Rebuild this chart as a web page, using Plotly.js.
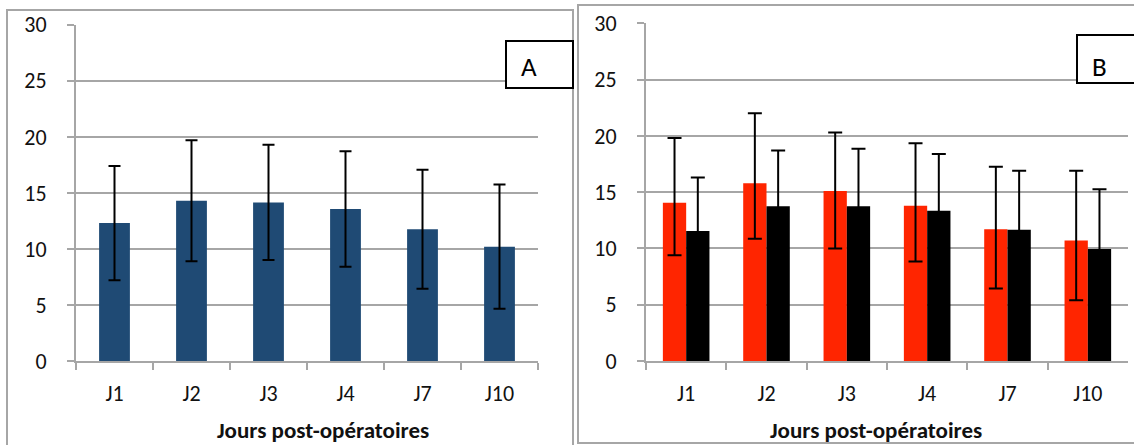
<!DOCTYPE html>
<html>
<head>
<meta charset="utf-8">
<script src="https://cdn.plot.ly/plotly-3.0.1.min.js"></script>
<style>html,body{margin:0;padding:0;background:#fff;}#chart{width:1134px;height:445px;}</style>
</head>
<body>
<div id="chart"></div>
<script>
// Categories
const days = ["J1", "J2", "J3", "J4", "J7", "J10"];

// Panel A
const meanA = [12.3, 14.3, 14.15, 13.55, 11.75, 10.2];
const sdA   = [5.1, 5.4, 5.15, 5.15, 5.3, 5.55];

// Panel B — red series
const meanRed      = [14.05, 15.8, 15.1, 13.8, 11.7, 10.7];
const errRedPlus   = [5.75, 6.2, 5.2, 5.55, 5.55, 6.2];
const errRedMinus  = [4.65, 4.95, 5.1, 4.95, 5.25, 5.3];

// Panel B — black series
const meanBlack = [11.55, 13.75, 13.75, 13.35, 11.65, 9.95];
const errBlack  = [4.75, 4.95, 5.1, 5.05, 5.25, 5.3];

const yTicks = [0, 5, 10, 15, 20, 25, 30];

const FONT = "Carlito, Lato, 'Open Sans', sans-serif";
const GRID = "#a6a6a6";
const W = 1134, H = 445;
const px = v => v / W;
const py = v => 1 - v / H;

const traces = [
  {
    type: "bar", x: days, y: meanA, xaxis: "x", yaxis: "y",
    marker: {color: "#1f4a74"}, width: 0.4, offset: -0.2,
    error_y: {type: "data", array: sdA, visible: true, color: "#000", thickness: 2, width: 6},
    showlegend: false
  },
  {
    type: "bar", x: days, y: meanRed, xaxis: "x2", yaxis: "y2",
    marker: {color: "#ff2500"}, width: 0.29, offset: -0.29,
    error_y: {type: "data", symmetric: false, array: errRedPlus, arrayminus: errRedMinus,
              visible: true, color: "#000", thickness: 2, width: 7},
    showlegend: false
  },
  {
    type: "bar", x: days, y: meanBlack, xaxis: "x2", yaxis: "y2",
    marker: {color: "#000000"}, width: 0.29, offset: 0,
    error_y: {type: "data", array: errBlack, visible: true, color: "#000", thickness: 2, width: 7},
    showlegend: false
  }
];

function xAxis(domain, anchor) {
  return {
    domain: domain, anchor: anchor, type: "category",
    tickson: "boundaries", ticks: "outside", ticklen: 7, tickwidth: 2, tickcolor: GRID,
    showline: true, linecolor: GRID, linewidth: 2, showgrid: false,
    tickfont: {family: FONT, size: 22, color: "#111"},
    ticklabelstandoff: 12, fixedrange: true
  };
}
function yAxis(domain, anchor) {
  return {
    domain: domain, anchor: anchor, range: [0, 30], tickvals: yTicks,
    ticks: "outside", ticklen: 7, tickwidth: 2, tickcolor: GRID,
    showline: true, linecolor: GRID, linewidth: 2,
    showgrid: true, gridcolor: GRID, gridwidth: 2, zeroline: false,
    tickfont: {family: FONT, size: 22, color: "#111"},
    ticklabelstandoff: 16, fixedrange: true
  };
}

const layout = {
  width: W, height: H,
  margin: {l: 0, r: 0, t: 0, b: 0},
  paper_bgcolor: "#fff", plot_bgcolor: "#fff",
  barmode: "overlay",
  xaxis: xAxis([px(76), px(538)], "y"),
  yaxis: yAxis([py(361), py(24.7)], "x"),
  xaxis2: xAxis([px(646), px(1128)], "y2"),
  yaxis2: yAxis([py(361), py(23.3)], "x2"),
  shapes: [
    {type: "rect", xref: "paper", yref: "paper", x0: px(7), x1: px(573), y0: py(460), y1: py(10),
     line: {color: GRID, width: 2}, fillcolor: "rgba(0,0,0,0)", layer: "below"},
    {type: "rect", xref: "paper", yref: "paper", x0: px(578), x1: px(1150), y0: py(443), y1: py(5),
     line: {color: GRID, width: 2}, fillcolor: "rgba(0,0,0,0)", layer: "below"},
    {type: "rect", xref: "paper", yref: "paper", x0: px(506), x1: px(573), y0: py(88), y1: py(41),
     line: {color: "#000", width: 2}, fillcolor: "#fff"},
    {type: "rect", xref: "paper", yref: "paper", x0: px(1077), x1: px(1150), y0: py(83), y1: py(35),
     line: {color: "#000", width: 2}, fillcolor: "#fff"}
  ],
  annotations: [
    {text: "A", xref: "paper", yref: "paper", x: px(529), y: py(66), xanchor: "center", yanchor: "middle",
     showarrow: false, font: {family: FONT, size: 27, color: "#000"}},
    {text: "B", xref: "paper", yref: "paper", x: px(1099), y: py(66), xanchor: "center", yanchor: "middle",
     showarrow: false, font: {family: FONT, size: 27, color: "#000"}},
    {text: "<b>Jours post-opératoires</b>", xref: "paper", yref: "paper", x: px(323), y: py(430),
     xanchor: "center", yanchor: "middle", showarrow: false, font: {family: FONT, size: 23, color: "#111"}},
    {text: "<b>Jours post-opératoires</b>", xref: "paper", yref: "paper", x: px(876), y: py(430),
     xanchor: "center", yanchor: "middle", showarrow: false, font: {family: FONT, size: 23, color: "#111"}}
  ]
};

Plotly.newPlot("chart", traces, layout, {displayModeBar: false, staticPlot: true});
</script>
</body>
</html>
